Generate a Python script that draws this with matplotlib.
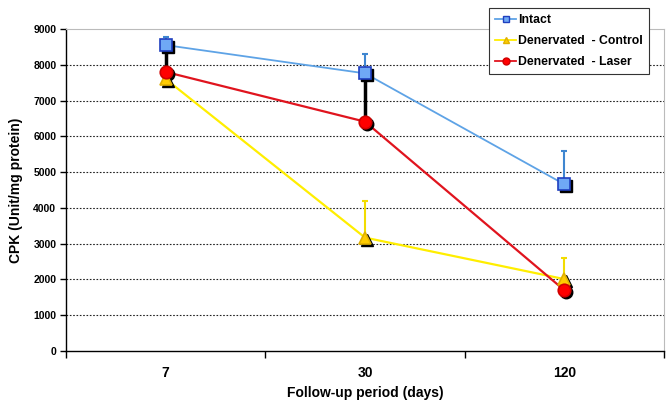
"""CPK activity over follow-up period, intact vs denervated muscle."""

import matplotlib

matplotlib.use("Agg")
import matplotlib.pyplot as plt
import matplotlib.transforms as mtransforms

plt.rcParams["font.family"] = ["Liberation Sans", "DejaVu Sans"]
plt.rcParams["font.weight"] = "bold"

days = ["7", "30", "120"]
intact = [8550, 7760, 4660]
intact_err = [230, 540, 930]
control = [7600, 3170, 2010]
control_err = [0, 1020, 590]
laser = [7800, 6410, 1700]
laser_err = [680, 1270, 0]

fig = plt.figure(figsize=(6.69, 4.05), dpi=100)
ax = fig.add_axes([0.0987, 0.1333, 0.8938, 0.7951])

x = list(range(len(days)))

# error bars first (upward only), black bars for the laser group
ax.errorbar(x, intact, yerr=[[0] * 3, intact_err], fmt="none", ecolor="#3f86d0",
            elinewidth=1.5, capsize=2, capthick=1.5, zorder=3)
ax.errorbar(x, control, yerr=[[0] * 3, control_err], fmt="none", ecolor="#f2dc00",
            elinewidth=1.5, capsize=2, capthick=1.5, zorder=3)
ax.errorbar(x, laser, yerr=[[0] * 3, laser_err], fmt="none", ecolor="black",
            elinewidth=2.5, capsize=0, zorder=3)

series = [
    ("Intact", intact, "#5ea3e6", "s", "#6fa8f5", "#1f3fbf", 9),
    ("Denervated  - Control", control, "#ffee00", "^", "#ffcc00", "#e0b000", 8),
    ("Denervated  - Laser", laser, "#e0141e", "o", "#ff0000", "#d00000", 9),
]

shadow = mtransforms.offset_copy(ax.transData, fig=fig, x=1.5, y=-1.5, units="points")
for label, vals, lc, mk, mfc, mec, ms in series:
    ax.plot(x, vals, color=lc, linewidth=1.3 if mk == "s" else 1.6, zorder=4)
    ax.plot(x, vals, linestyle="none", marker=mk, markersize=ms, color="black",
            transform=shadow, zorder=5)
    ax.plot(x, vals, linestyle="none", marker=mk, markersize=ms, markerfacecolor=mfc,
            markeredgecolor=mec, markeredgewidth=1.2, zorder=6)

# legend handles: short line with small marker
handles = []
for label, vals, lc, mk, mfc, mec, ms in series:
    (h,) = ax.plot([], [], color=lc, linewidth=1.3, marker=mk, markersize=5,
                   markerfacecolor=mfc, markeredgecolor=mec, label=label)
    handles.append(h)
leg = ax.legend(handles=handles, loc="upper right", bbox_to_anchor=(0.985, 1.085),
                fontsize=8.8, handlelength=1.7, handletextpad=0.15, borderpad=0.5,
                labelspacing=0.75, fancybox=False, framealpha=1, edgecolor="#333333")
leg.get_frame().set_linewidth(0.8)
leg.set_zorder(10)

ax.set_xlim(-0.5, 2.5)
ax.set_ylim(0, 9000)
ax.set_yticks(range(0, 9001, 1000))
ax.set_xticks([-0.5, 0.5, 1.5, 2.5])
ax.set_xticklabels([])
ax.set_xticks(x, minor=True)
ax.set_xticklabels(days, minor=True, fontsize=10, fontweight="bold")
ax.tick_params(axis="x", which="minor", length=0, pad=11)
ax.tick_params(axis="x", which="major", length=5, width=1, direction="out")
ax.tick_params(axis="y", length=4, width=1, labelsize=7.5, pad=3)
for t in ax.get_yticklabels():
    t.set_fontweight("bold")

for yv in range(1000, 9000, 1000):
    ax.axhline(yv, color="#222222", linestyle=(0, (1.5, 1.5)), linewidth=0.8, zorder=1)

ax.spines["left"].set_color("black")
ax.spines["bottom"].set_color("black")
ax.spines["left"].set_linewidth(1)
ax.spines["bottom"].set_linewidth(1)
ax.spines["top"].set_color("#bbbbbb")
ax.spines["right"].set_color("#bbbbbb")

ax.set_ylabel("CPK (Unit/mg protein)", fontsize=10, fontweight="bold", labelpad=7)
ax.set_xlabel("Follow-up period (days)", fontsize=10, fontweight="bold",
              verticalalignment="center")
ax.xaxis.set_label_coords(0.5, -0.13)

fig.savefig("out.png", dpi=100)
